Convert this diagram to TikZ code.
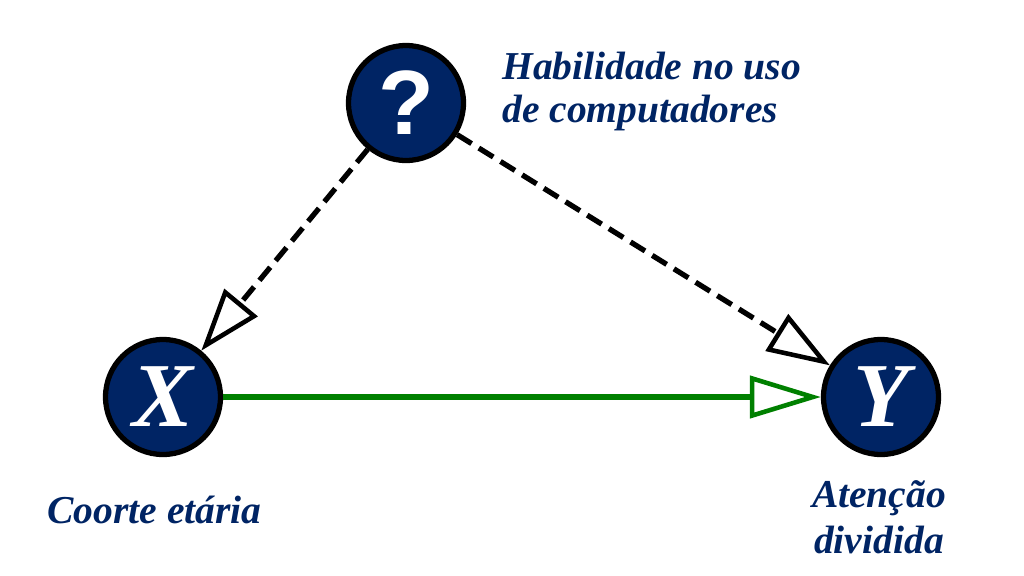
\documentclass[tikz,border=0pt]{standalone}
\usepackage{fontspec}
\setmainfont{Liberation Serif}
\usetikzlibrary{arrows.meta}
\definecolor{navy}{RGB}{0,36,100}
\definecolor{darkgreen}{RGB}{0,128,0}
\tikzset{
  var/.style={draw=black, circle, fill=navy, line width=3pt, minimum size=2.3cm, inner sep=0pt, text=white, font=\bfseries\itshape\fontsize{52}{54}\selectfont},
  lbl/.style={text=navy, font=\bfseries\itshape\fontsize{22.5}{24}\selectfont, inner sep=0pt},
  conf/.style={draw=black, line width=3pt, dash pattern=on 0.34cm off 0.17cm, -{Triangle[fill=white, length=1.25cm, width=0.85cm, line width=2.6pt]}},
  cause/.style={draw=darkgreen, line width=3pt, -{Triangle[fill=white, length=1.42cm, width=0.84cm, line width=2.6pt]}}
}
\begin{document}
\begin{tikzpicture}[x=0.02cm, y=-0.02cm]
        \useasboundingbox (0,0) rectangle (1024,575);
        \node[var] (q) at (406,103) {\fontspec{Liberation Sans}\bfseries\upshape ?};
        \node[var] (x) at (163,397) {X};
        \node[var] (y) at (881,397) {Y};
        \node[lbl, align=left, anchor=base west] (ql) at (502,122) {Habilidade no uso\\de computadores};
        \node[lbl, anchor=base west] (xl) at (47,523) {Coorte etária};
        \node[lbl, align=center, anchor=base, font=\bfseries\itshape\fontsize{22.5}{26}\selectfont] (yl) at (879,553) {Atenção\\dividida};
        \path[conf] (q) -- (x);
        \path[conf] (q) -- (y);
        \path[cause] (x) -- (y);
    \end{tikzpicture}
\end{document}
